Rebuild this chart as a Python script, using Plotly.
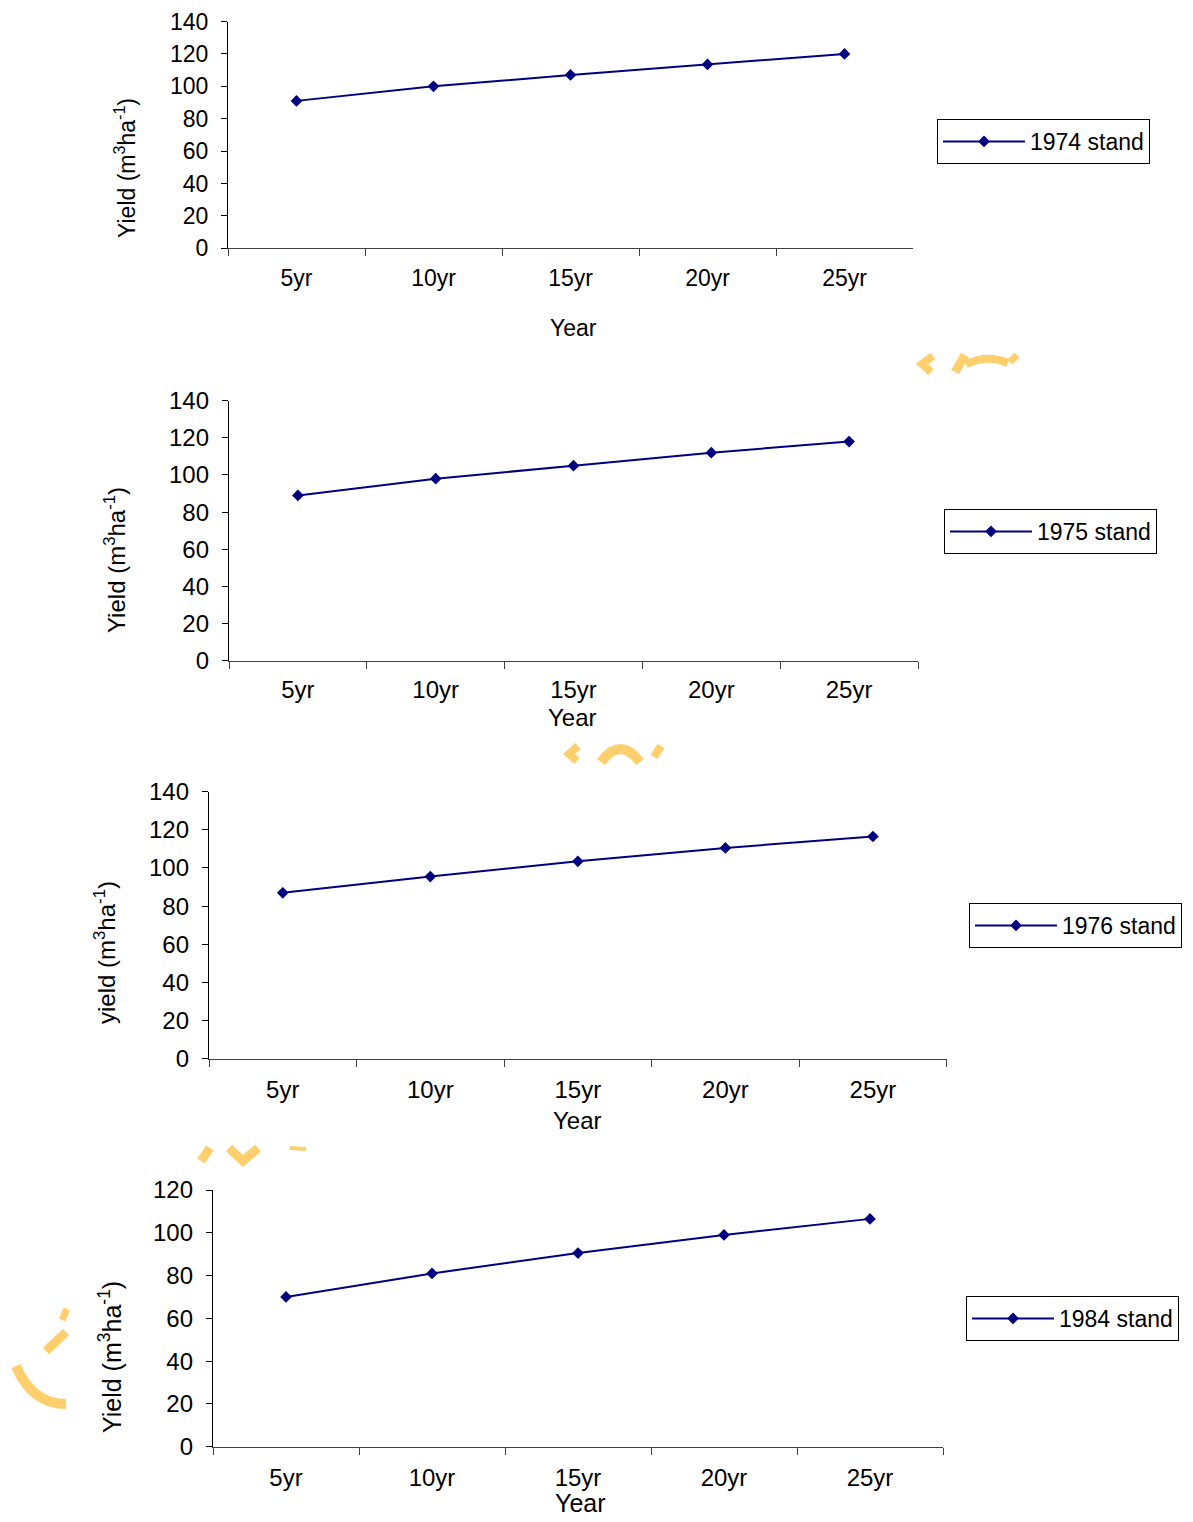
import plotly.graph_objects as go

W, H = 1193, 1522

# ---- data -------------------------------------------------------------
periods = ["5yr", "10yr", "15yr", "20yr", "25yr"]
yield_1974 = [91, 100, 107, 113.5, 120]
yield_1975 = [89, 98, 105, 112, 118]
yield_1976 = [87, 95.5, 103.5, 110.5, 116.5]
yield_1984 = [70, 81, 90.5, 99, 106.5]
stand_names = ["1974 stand", "1975 stand", "1976 stand", "1984 stand"]
y_titles = [
    "Yield (m<sup>3</sup>ha<sup>-1</sup>)",
    "Yield (m<sup>3</sup>ha<sup>-1</sup>)",
    "yield (m<sup>3</sup>ha<sup>-1</sup>)",
    "Yield (m<sup>3</sup>ha<sup>-1</sup>)",
]
y_max = [140, 140, 140, 120]
x_title = "Year"

series = [yield_1974, yield_1975, yield_1976, yield_1984]

# ---- panel geometry (pixels: left, right, top, bottom of plot box) ------
boxes = [
    (228, 913, 21.5, 248.3),
    (229, 918, 400.7, 660.7),
    (209, 946.7, 791.7, 1058.7),
    (213, 943, 1190, 1446.7),
]
tick_font = [23, 24, 24, 24]
x_standoff = [9, 7, 9, 9]
title_font = [23, 24, 24, 25]
x_title_pos = [(573, 328), (572, 718), (577, 1120), (580, 1503)]
y_title_pos = [(125, 168), (115, 560), (105, 953), (110, 1357)]
legend_pos = [(937, 119), (944, 509), (969, 903), (966, 1296)]

LINE = "#000080"
FONT = "Liberation Sans, Arial, sans-serif"


def px(x):
    return x / W


def py(y):
    return 1 - y / H


fig = go.Figure()
annotations = []

for i, vals in enumerate(series):
    n = "" if i == 0 else str(i + 1)
    left, right, top, bottom = boxes[i]
    fig.add_trace(go.Scatter(
        x=periods, y=vals, name=stand_names[i],
        mode="lines+markers",
        line=dict(color=LINE, width=2),
        marker=dict(symbol="diamond", size=9, color=LINE),
        xaxis="x" + n, yaxis="y" + n,
        legend="legend" + n,
        showlegend=True,
    ))
    fig.layout["xaxis" + n] = dict(
        domain=[px(left), px(right)], anchor="y" + n,
        type="category", tickson="boundaries",
        range=[-0.5, len(periods) - 0.5],
        showline=True, linecolor="#404040", linewidth=1.3,
        ticks="outside", ticklen=7, tickcolor="#404040", tickwidth=1.3,
        ticklabelstandoff=x_standoff[i],
        showgrid=False, zeroline=False,
        tickfont=dict(family=FONT, size=tick_font[i], color="#000"),
    )
    fig.layout["yaxis" + n] = dict(
        domain=[py(bottom), py(top)], anchor="x" + n,
        range=[0, y_max[i]], dtick=20, tick0=0,
        showline=True, linecolor="#000", linewidth=1.3,
        ticks="outside", ticklen=6, tickcolor="#000", tickwidth=1.3,
        ticklabelstandoff=8,
        showgrid=False, zeroline=False,
        tickfont=dict(family=FONT, size=tick_font[i], color="#000"),
    )
    lx, ly = legend_pos[i]
    fig.layout["legend" + n] = dict(
        x=px(lx), y=py(ly), xanchor="left", yanchor="top",
        bordercolor="#000", borderwidth=1, bgcolor="rgba(0,0,0,0)",
        font=dict(family=FONT, size=23, color="#000"),
        itemwidth=82,
    )
    tx, ty = x_title_pos[i]
    annotations.append(dict(
        x=px(tx), y=py(ty), xref="paper", yref="paper", text=x_title,
        showarrow=False, xanchor="center", yanchor="middle",
        font=dict(family=FONT, size=title_font[i], color="#000"),
    ))
    tx, ty = y_title_pos[i]
    annotations.append(dict(
        x=px(tx), y=py(ty), xref="paper", yref="paper", text=y_titles[i],
        showarrow=False, textangle=-90, xanchor="center", yanchor="middle",
        font=dict(family=FONT, size=title_font[i], color="#000"),
    ))

# ---- faint orange watermark fragments between panels -------------------
WM = "rgba(255,204,102,0.95)"


def stroke(points, width):
    d = "M" + " L".join(f"{px(x):.5f},{py(y):.5f}" for x, y in points)
    return dict(type="path", path=d, xref="paper", yref="paper",
                line=dict(color=WM, width=width), layer="below")


def curve(p0, c, p1, width):
    d = (f"M{px(p0[0]):.5f},{py(p0[1]):.5f} "
         f"Q{px(c[0]):.5f},{py(c[1]):.5f} {px(p1[0]):.5f},{py(p1[1]):.5f}")
    return dict(type="path", path=d, xref="paper", yref="paper",
                line=dict(color=WM, width=width), layer="below")


shapes = [
    stroke([(933, 356), (922, 364), (931, 372)], 8),
    stroke([(955, 372), (965, 355)], 9),
    curve((966, 364), (988, 354), (1008, 363), 8),
    stroke([(1010, 362), (1017, 355)], 7),
    stroke([(578, 746), (569, 754), (577, 761)], 8),
    curve((601, 762), (620, 736), (640, 762), 10),
    stroke([(661, 746), (654, 757)], 8),
    stroke([(210, 1148), (201, 1161)], 9),
    stroke([(229, 1148), (243, 1161), (258, 1148)], 9),
    stroke([(290, 1148), (306, 1149)], 4),
    curve((16, 1366), (32, 1404), (66, 1404), 10),
    stroke([(46, 1351), (66, 1332)], 9),
    stroke([(62, 1320), (67, 1309)], 7),
]

fig.update_layout(
    width=W, height=H,
    margin=dict(l=0, r=0, t=0, b=0, autoexpand=False),
    paper_bgcolor="#fff", plot_bgcolor="#fff",
    annotations=annotations,
    shapes=shapes,
    font=dict(family=FONT, color="#000"),
)

fig.write_html("out.html")
